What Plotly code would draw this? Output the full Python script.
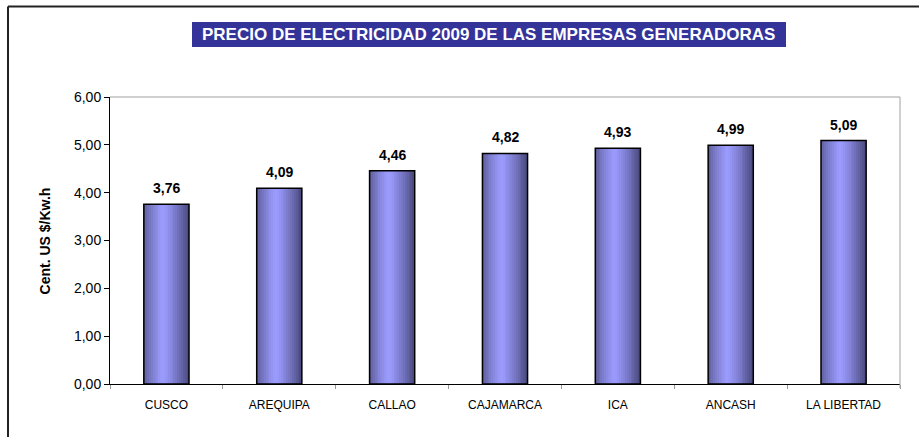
import plotly.graph_objects as go

categories = ["CUSCO", "AREQUIPA", "CALLAO", "CAJAMARCA", "ICA", "ANCASH", "LA LIBERTAD"]
values = [3.76, 4.09, 4.46, 4.82, 4.93, 4.99, 5.09]
y_ticks = [0, 1, 2, 3, 4, 5, 6]
title_text = "PRECIO DE ELECTRICIDAD 2009 DE LAS EMPRESAS GENERADORAS"
y_title = "Cent. US $/Kw.h"

FONT = "Arial, Liberation Sans, sans-serif"
BAR_W = 0.4
N_STRIPS = 24

def lerp(c1, c2, t):
    return tuple(round(a + (b - a) * t) for a, b in zip(c1, c2))

left_c = (84, 84, 140)
peak_c = (156, 156, 255)
right_c = (72, 72, 124)
peak_pos = 0.42

fig = go.Figure()
sw = BAR_W / N_STRIPS
for i in range(N_STRIPS):
    t = (i + 0.5) / N_STRIPS
    if t < peak_pos:
        u = t / peak_pos
        c = lerp(left_c, peak_c, u ** 0.7)
    else:
        u = (t - peak_pos) / (1 - peak_pos)
        c = lerp(peak_c, right_c, u ** 1.3)
    fig.add_trace(go.Bar(
        x=categories, y=values,
        width=[sw * 1.05] * len(values),
        offset=[-BAR_W / 2 + i * sw] * len(values),
        marker=dict(color="rgb(%d,%d,%d)" % c, line=dict(width=0)),
        hoverinfo="skip", showlegend=False,
    ))

fig.add_trace(go.Bar(
    x=categories, y=values,
    width=[BAR_W] * len(values),
    offset=[-BAR_W / 2] * len(values),
    marker=dict(color="rgba(0,0,0,0)", line=dict(color="#000000", width=1.5)),
    showlegend=False,
))

value_labels = [
    dict(x=c, y=v, xref="x", yref="y", text="<b>" + f"{v:.2f}".replace(".", ",") + "</b>",
         showarrow=False, yanchor="bottom", xanchor="center", yshift=6,
         font=dict(family=FONT, size=14, color="#000000"))
    for c, v in zip(categories, values)
]

fig.update_layout(
    width=919, height=437,
    margin=dict(l=110, r=19, t=97, b=53),
    paper_bgcolor="white", plot_bgcolor="white",
    barmode="overlay",
    separators=",.",
    font=dict(family=FONT, size=11, color="#000000"),
    xaxis=dict(
        showline=True, linecolor="#000000", linewidth=1,
        tickson="boundaries", ticks="outside", ticklen=4, tickcolor="#999999",
        tickfont=dict(size=12), showgrid=False, ticklabelstandoff=10,
    ),
    yaxis=dict(
        range=[0, 6], tickvals=y_ticks, tickformat=".2f",
        showline=True, linecolor="#000000", linewidth=1,
        ticks="outside", ticklen=5, tickcolor="#000000",
        tickfont=dict(size=14), showgrid=False, zeroline=False,
    ),
    shapes=[
        dict(type="line", xref="paper", yref="paper", x0=0, x1=1, y0=1, y1=1,
             line=dict(color="#a0a0a0", width=1)),
        dict(type="line", xref="paper", yref="paper", x0=1, x1=1, y0=-0.014, y1=1,
             line=dict(color="#a0a0a0", width=1)),
        dict(type="line", xref="paper", yref="paper", x0=-0.1291, x1=-0.1291, y0=-0.2, y1=1.3153,
             line=dict(color="#222222", width=2)),
        dict(type="line", xref="paper", yref="paper", x0=-0.1291, x1=1.03, y0=1.3153, y1=1.3153,
             line=dict(color="#222222", width=2)),
        dict(type="rect", xref="paper", yref="paper", x0=0.1038, x1=0.8557, y0=1.1742, y1=1.2613,
             fillcolor="#333399", line=dict(width=0), layer="below"),
    ],
    annotations=value_labels + [
        dict(text="<b>" + title_text + "</b>", xref="paper", yref="paper",
             x=0.4797, y=1.2178, xanchor="center", yanchor="middle", showarrow=False,
             font=dict(family=FONT, size=17, color="#ffffff")),
        dict(text="<b>" + y_title + "</b>", xref="paper", yref="paper",
             x=-0.0823, y=0.5, xanchor="center", yanchor="middle", textangle=-90,
             showarrow=False, font=dict(family=FONT, size=14, color="#000000")),
    ],
)

fig.write_html("out.html", config={"displayModeBar": False},
               post_script="document.body.style.margin='0';")
